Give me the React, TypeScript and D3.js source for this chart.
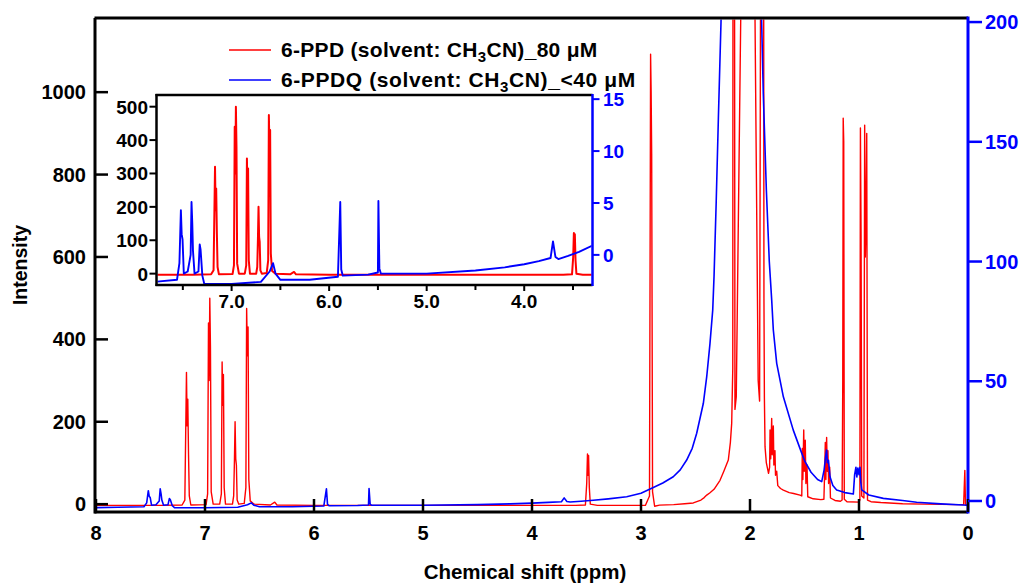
import React from 'react';
import * as d3 from 'd3';

// ---------- data ----------
const xTicksMain = [8, 7, 6, 5, 4, 3, 2, 1, 0];
const yTicksLeft = [0, 200, 400, 600, 800, 1000];
const yTicksRight = [0, 50, 100, 150, 200];
const insetXTicks = [7.0, 6.0, 5.0, 4.0];
const insetXMinor = [7.5, 6.5, 5.5, 4.5, 3.5];
const insetYLeftTicks = [0, 100, 200, 300, 400, 500];
const insetYRightTicks = [0, 5, 10, 15];

const legendRed = '6-PPD (solvent: CH';
const legendRedTail = 'CN)_80 μM';
const legendBlue = '6-PPDQ (solvent: CH';
const legendBlueTail = 'CN)_<40 μM';

// 6-PPD spectrum: [ppm, intensity] (left axis)
const redSpectrum: [number, number][] = [
  [8.0, -3], [7.8, -3], [7.6, -3], [7.4, -3], [7.21, -2], [7.185, 10], [7.175, 215], [7.170, 320], [7.164, 190],
  [7.158, 255], [7.151, 120], [7.144, 20], [7.13, -2],
  [6.99, -1], [6.976, 25], [6.968, 440], [6.962, 300], [6.956, 500], [6.950, 380], [6.943, 30], [6.925, 0],
  [6.865, 0], [6.850, 25], [6.843, 345], [6.837, 240], [6.831, 315], [6.824, 40], [6.812, 0],
  [6.748, 0], [6.737, 20], [6.730, 105], [6.724, 200], [6.718, 110], [6.712, 95], [6.705, 10], [6.69, 0],
  [6.64, 2], [6.625, 40], [6.618, 475], [6.611, 360], [6.605, 430], [6.598, 60], [6.585, 8], [6.55, 0],
  [6.40, -2], [6.36, 5], [6.34, -2], [6.0, -3], [5.5, -3], [5.0, -3], [4.5, -3], [4.0, -3], [3.6, -3],
  [3.51, -2], [3.498, 50], [3.491, 122], [3.486, 70], [3.481, 118], [3.474, 40], [3.465, 0], [3.40, -3],
  [3.20, -3], [2.96, -3], [2.922, 20], [2.912, 1092], [2.907, 1000], [2.902, 850], [2.894, 30], [2.875, -5],
  [2.83, -2.4], [2.70, -1], [2.60, 1], [2.52, 3], [2.45, 10], [2.42, 16], [2.397, 22], [2.37, 27],
  [2.33, 36], [2.275, 58], [2.24, 80], [2.199, 107], [2.18, 150], [2.168, 196], [2.158, 330],
  [2.153, 3000], [2.148, 3000], [2.138, 230], [2.126, 260], [2.085, 1180], [2.06, 3000],
  [1.98, 3000], [1.954, 1180], [1.925, 300], [1.912, 250], [1.888, 3000], [1.880, 3000],
  [1.872, 500], [1.868, 260], [1.862, 139], [1.850, 100], [1.830, 75], [1.820, 90], [1.816, 180],
  [1.810, 110], [1.801, 208], [1.796, 120], [1.786, 190], [1.781, 95], [1.771, 130], [1.766, 70],
  [1.755, 80], [1.745, 45], [1.72, 38], [1.694, 34], [1.64, 28], [1.60, 26], [1.541, 22], [1.525, 20],
  [1.520, 135], [1.515, 60], [1.507, 180], [1.502, 80], [1.493, 155], [1.487, 50], [1.477, 95],
  [1.470, 18], [1.42, 13], [1.35, 11], [1.322, 12], [1.315, 80], [1.309, 150], [1.304, 60],
  [1.297, 162], [1.291, 80], [1.285, 130], [1.279, 50], [1.269, 90], [1.262, 15], [1.22, 9],
  [1.17, 7], [1.155, 10], [1.149, 300], [1.145, 937], [1.140, 880], [1.135, 12], [1.11, 6],
  [1.00, 5], [0.992, 10], [0.987, 913], [0.981, 650], [0.975, 20], [0.955, 15], [0.948, 920],
  [0.942, 600], [0.935, 700], [0.929, 900], [0.922, 10], [0.89, 6], [0.80, 4], [0.60, 1],
  [0.40, 0], [0.10, -1], [0.04, -1], [0.029, 82], [0.023, -2], [0.0, -2],
];

// 6-PPDQ spectrum: [ppm, intensity] (right axis)
const blueSpectrum: [number, number][] = [
  [8.0, -2.8], [7.8, -2.6], [7.56, -2.4], [7.535, -0.8], [7.520, 4.3], [7.512, 2.0], [7.503, 1.5],
  [7.49, -1.8], [7.45, -1.6], [7.420, 0], [7.411, 5.1], [7.403, 3.0], [7.396, 0.4], [7.38, -1.8],
  [7.34, -1.6], [7.327, 1.0], [7.318, 0.5], [7.30, -2.0], [7.28, -2.8], [7.0, -2.8], [6.7, -2.6],
  [6.61, -1.6], [6.575, -0.8], [6.55, -1.8], [6.50, -2.4], [6.20, -2.4], [5.91, -2.1], [5.886, 5.1],
  [5.876, -1.4], [5.86, -2.0], [5.60, -1.9], [5.50, -1.7], [5.495, 5.2], [5.485, -1.3], [5.47, -1.8],
  [5.0, -1.8], [4.5, -1.5], [4.2, -1.2], [4.0, -0.9], [3.85, -0.6], [3.73, -0.3], [3.705, 1.3],
  [3.68, -0.2], [3.65, -0.4], [3.55, -0.1], [3.438, 0.3], [3.30, 0.9], [3.131, 1.8], [3.0, 3.2],
  [2.887, 5.6], [2.80, 7.5], [2.704, 10.1], [2.64, 13], [2.581, 17.1], [2.53, 22], [2.489, 28.3],
  [2.428, 40.8], [2.397, 51.9], [2.367, 65.8], [2.342, 79.7], [2.330, 93.7], [2.31, 125],
  [2.29, 160], [2.266, 200], [2.22, 300], [2.10, 600], [2.00, 700], [1.95, 500], [1.91, 260],
  [1.893, 200], [1.878, 170], [1.85, 130], [1.823, 100], [1.801, 84], [1.786, 71.4],
  [1.755, 57.5], [1.694, 43.5], [1.603, 29.6], [1.53, 20.5], [1.495, 16.4], [1.44, 12],
  [1.38, 9], [1.342, 8.1], [1.32, 13], [1.305, 19], [1.297, 21.3], [1.29, 16], [1.28, 17],
  [1.266, 10.1], [1.24, 6.5], [1.205, 4.6], [1.13, 3.5], [1.052, 2.9], [1.04, 11], [1.028, 14.1],
  [1.02, 10], [1.01, 13.8], [1.0, 11], [0.991, 14.1], [0.984, 8], [0.975, 4.6], [0.91, 2.5],
  [0.777, 1.1], [0.60, 0.2], [0.471, -0.5], [0.25, -1.2], [0.043, -1.7], [0.0, -1.8],
];

// ---------- styling ----------
const FONT = '"Liberation Sans", Arial, Helvetica, sans-serif';
const RED = '#ff0000';
const BLUE = '#0000ff';

export default function App() {
  // main scales
  const x = d3.scaleLinear().domain([8, 0]).range([96, 968]);
  const yL = d3.scaleLinear().domain([-19, 1180]).range([512, 18]);
  const yR = d3.scaleLinear().domain([-4.6, 201.7]).range([512, 18]);
  // inset scales
  const ix = d3.scaleLinear().domain([7.77, 3.3]).range([156.5, 592.5]);
  const iyL = d3.scaleLinear().domain([-34, 535]).range([285, 95]);
  const iyR = d3.scaleLinear().domain([-2.9, 15.4]).range([285, 95]);

  const redMain = d3.line<[number, number]>().x((d) => x(d[0])).y((d) => yL(d[1]))(redSpectrum) || '';
  const blueMain = d3.line<[number, number]>().x((d) => x(d[0])).y((d) => yR(d[1]))(blueSpectrum) || '';
  const redInset = d3.line<[number, number]>().x((d) => ix(d[0])).y((d) => iyL(d[1]))(redSpectrum) || '';
  const blueInset = d3.line<[number, number]>().x((d) => ix(d[0])).y((d) => iyR(d[1]))(blueSpectrum) || '';

  const [mx0, mx1] = x.range();
  const [my0, my1] = [yL.range()[1], yL.range()[0]];
  const [ix0, ix1] = ix.range();
  const [iy0, iy1] = [iyL.range()[1], iyL.range()[0]];

  return (
    <svg width={1036} height={584} style={{ position: 'absolute', left: 0, top: 0, background: '#fff' }}
      fontFamily={FONT} fontWeight="bold">
      <defs>
        <clipPath id="mainClip">
          <rect x={mx0 + 1} y={my0 + 1.5} width={mx1 - mx0 - 2} height={my1 - my0 - 3} />
        </clipPath>
        <clipPath id="insetClip">
          <rect x={ix0 + 1} y={iy0 + 1} width={ix1 - ix0 - 2} height={iy1 - iy0 - 2} />
        </clipPath>
      </defs>
      <rect x={0} y={0} width={1036} height={584} fill="#fff" />

      {/* main spectra */}
      <g clipPath="url(#mainClip)">
        <path d={redMain} fill="none" stroke={RED} strokeWidth={1.4} strokeLinejoin="round" />
        <path d={blueMain} fill="none" stroke={BLUE} strokeWidth={1.6} strokeLinejoin="round" />
      </g>

      {/* main frame */}
      <line x1={mx0 - 1.5} x2={mx1} y1={my0} y2={my0} stroke="#000" strokeWidth={3} />
      <line x1={mx0 - 1.5} x2={mx1} y1={my1} y2={my1} stroke="#000" strokeWidth={3} />
      <line x1={mx0 - 1} x2={mx0 - 1} y1={my0} y2={my1 + 1.5} stroke="#000" strokeWidth={3} />
      <line x1={mx1} x2={mx1} y1={my0 - 1.5} y2={my1 + 1.5} stroke={BLUE} strokeWidth={3} />

      {/* bottom axis */}
      {xTicksMain.map((t) => (
        <g key={'xb' + t}>
          <line x1={x(t)} x2={x(t)} y1={my1} y2={my1 - 13} stroke="#000" strokeWidth={2.5} />
          <text x={x(t)} y={540} textAnchor="middle" fontSize={20} fill="#000">{t}</text>
        </g>
      ))}
      {/* left axis */}
      {yTicksLeft.map((t) => (
        <g key={'yl' + t}>
          <line x1={mx0 - 1} x2={mx0 + 12} y1={yL(t)} y2={yL(t)} stroke="#000" strokeWidth={2.5} />
          <text x={86} y={yL(t) + 7} textAnchor="end" fontSize={20} fill="#000">{t}</text>
        </g>
      ))}
      {/* right axis */}
      {yTicksRight.map((t) => (
        <g key={'yr' + t}>
          <line x1={mx1} x2={mx1 + 14} y1={yR(t)} y2={yR(t)} stroke={BLUE} strokeWidth={2.5} />
          <text x={985} y={yR(t) + 7} textAnchor="start" fontSize={20} fill={BLUE}>{t}</text>
        </g>
      ))}

      {/* axis titles */}
      <text x={525} y={579} textAnchor="middle" fontSize={20.5} fill="#000">Chemical shift (ppm)</text>
      <text transform="translate(27,265) rotate(-90)" textAnchor="middle" fontSize={19.5} fill="#000">Intensity</text>

      {/* legend */}
      <line x1={229} x2={271} y1={50} y2={50} stroke={RED} strokeWidth={1.5} />
      <text x={281} y={57} fontSize={21} letterSpacing={0.3} fill="#000">
        {legendRed}
        <tspan dy={5} fontSize={15}>3</tspan>
        <tspan dy={-5}>{legendRedTail}</tspan>
      </text>
      <line x1={229} x2={271} y1={80} y2={80} stroke={BLUE} strokeWidth={1.5} />
      <text x={281} y={87} fontSize={21} letterSpacing={0.6} fill="#000">
        {legendBlue}
        <tspan dy={5} fontSize={15}>3</tspan>
        <tspan dy={-5}>{legendBlueTail}</tspan>
      </text>

      {/* inset */}
      <rect x={ix0} y={iy0} width={ix1 - ix0} height={iy1 - iy0} fill="#fff" />
      <g clipPath="url(#insetClip)">
        <path d={redInset} fill="none" stroke={RED} strokeWidth={2} strokeLinejoin="round" />
        <path d={blueInset} fill="none" stroke={BLUE} strokeWidth={1.9} strokeLinejoin="round" />
      </g>
      <line x1={ix0 - 1} x2={ix1} y1={iy0} y2={iy0} stroke="#000" strokeWidth={2.5} />
      <line x1={ix0 - 1} x2={ix1} y1={iy1} y2={iy1} stroke="#000" strokeWidth={2.5} />
      <line x1={ix0} x2={ix0} y1={iy0 - 1} y2={iy1 + 1} stroke="#000" strokeWidth={2.5} />
      <line x1={ix1} x2={ix1} y1={iy0 - 1} y2={iy1 + 1} stroke={BLUE} strokeWidth={2.5} />

      {insetXTicks.map((t) => (
        <g key={'ixt' + t}>
          <line x1={ix(t)} x2={ix(t)} y1={iy1} y2={iy1 + 6} stroke="#000" strokeWidth={2} />
          <text x={ix(t)} y={308} textAnchor="middle" fontSize={19} fill="#000">{d3.format('.1f')(t)}</text>
        </g>
      ))}
      {insetXMinor.map((t) => (
        <line key={'ixm' + t} x1={ix(t)} x2={ix(t)} y1={iy1} y2={iy1 + 5} stroke="#000" strokeWidth={2} />
      ))}
      {insetYLeftTicks.map((t) => (
        <g key={'iyl' + t}>
          <line x1={ix0 - 7} x2={ix0} y1={iyL(t)} y2={iyL(t)} stroke="#000" strokeWidth={2} />
          <text x={148} y={iyL(t) + 7} textAnchor="end" fontSize={19} fill="#000">{t}</text>
        </g>
      ))}
      {insetYRightTicks.map((t) => (
        <g key={'iyr' + t}>
          <line x1={ix1} x2={ix1 + 7} y1={iyR(t)} y2={iyR(t)} stroke={BLUE} strokeWidth={2} />
          <text x={603} y={iyR(t) + 7} textAnchor="start" fontSize={19} fill={BLUE}>{t}</text>
        </g>
      ))}
    </svg>
  );
}
